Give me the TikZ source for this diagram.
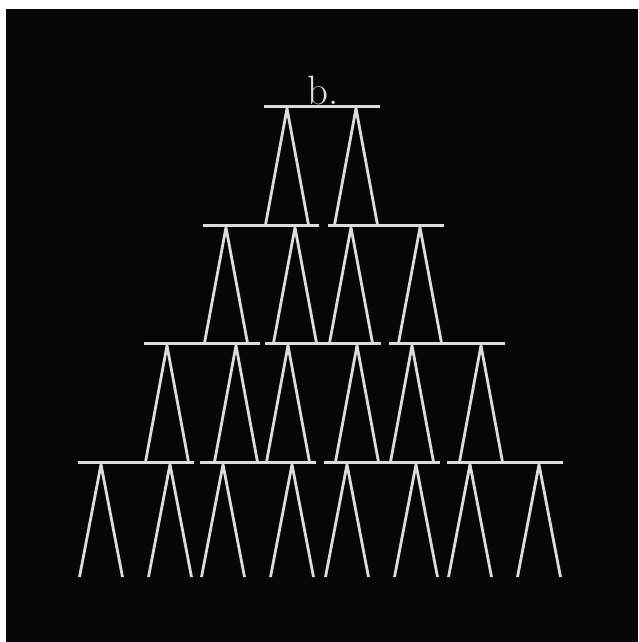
\documentclass[tikz,border=0pt]{standalone}
\usepackage{tikz}
\definecolor{chalk}{HTML}{DCDCDC}
\definecolor{board}{HTML}{060606}

\begin{document}
\begin{tikzpicture}[x=1pt, y=-1pt,
    shelf/.style={chalk, line width=3pt},
    leg/.style={chalk, line width=2.8pt, line join=round}]
    % frame
    \useasboundingbox (0,0) rectangle (638,642);
    \fill[white] (0,0) rectangle (638,642);
    \fill[board] (6,9) rectangle (638,642);

    % boards and trestles, row by row: bar level / level below / left ends
    \foreach \yb/\yn/\lefts in {106/225/{264}, 225/343/{203,328},
                                343/462/{144,265,389}, 462/577/{78,200,324,447}} {
        \foreach \xl in \lefts {
            \draw[shelf] (\xl,\yb) -- ++(116,0);
            \foreach \dx in {23,92}
                \draw[leg] (\xl+\dx-21.5,\yn) -- (\xl+\dx,\yb+2.5) -- (\xl+\dx+21.5,\yn);
        }
    }

    % label
    \node[chalk, anchor=base, inner sep=0pt, font=\fontsize{41}{41}\selectfont]
        (caption) at (323,104) {b.};
\end{tikzpicture}
\end{document}
